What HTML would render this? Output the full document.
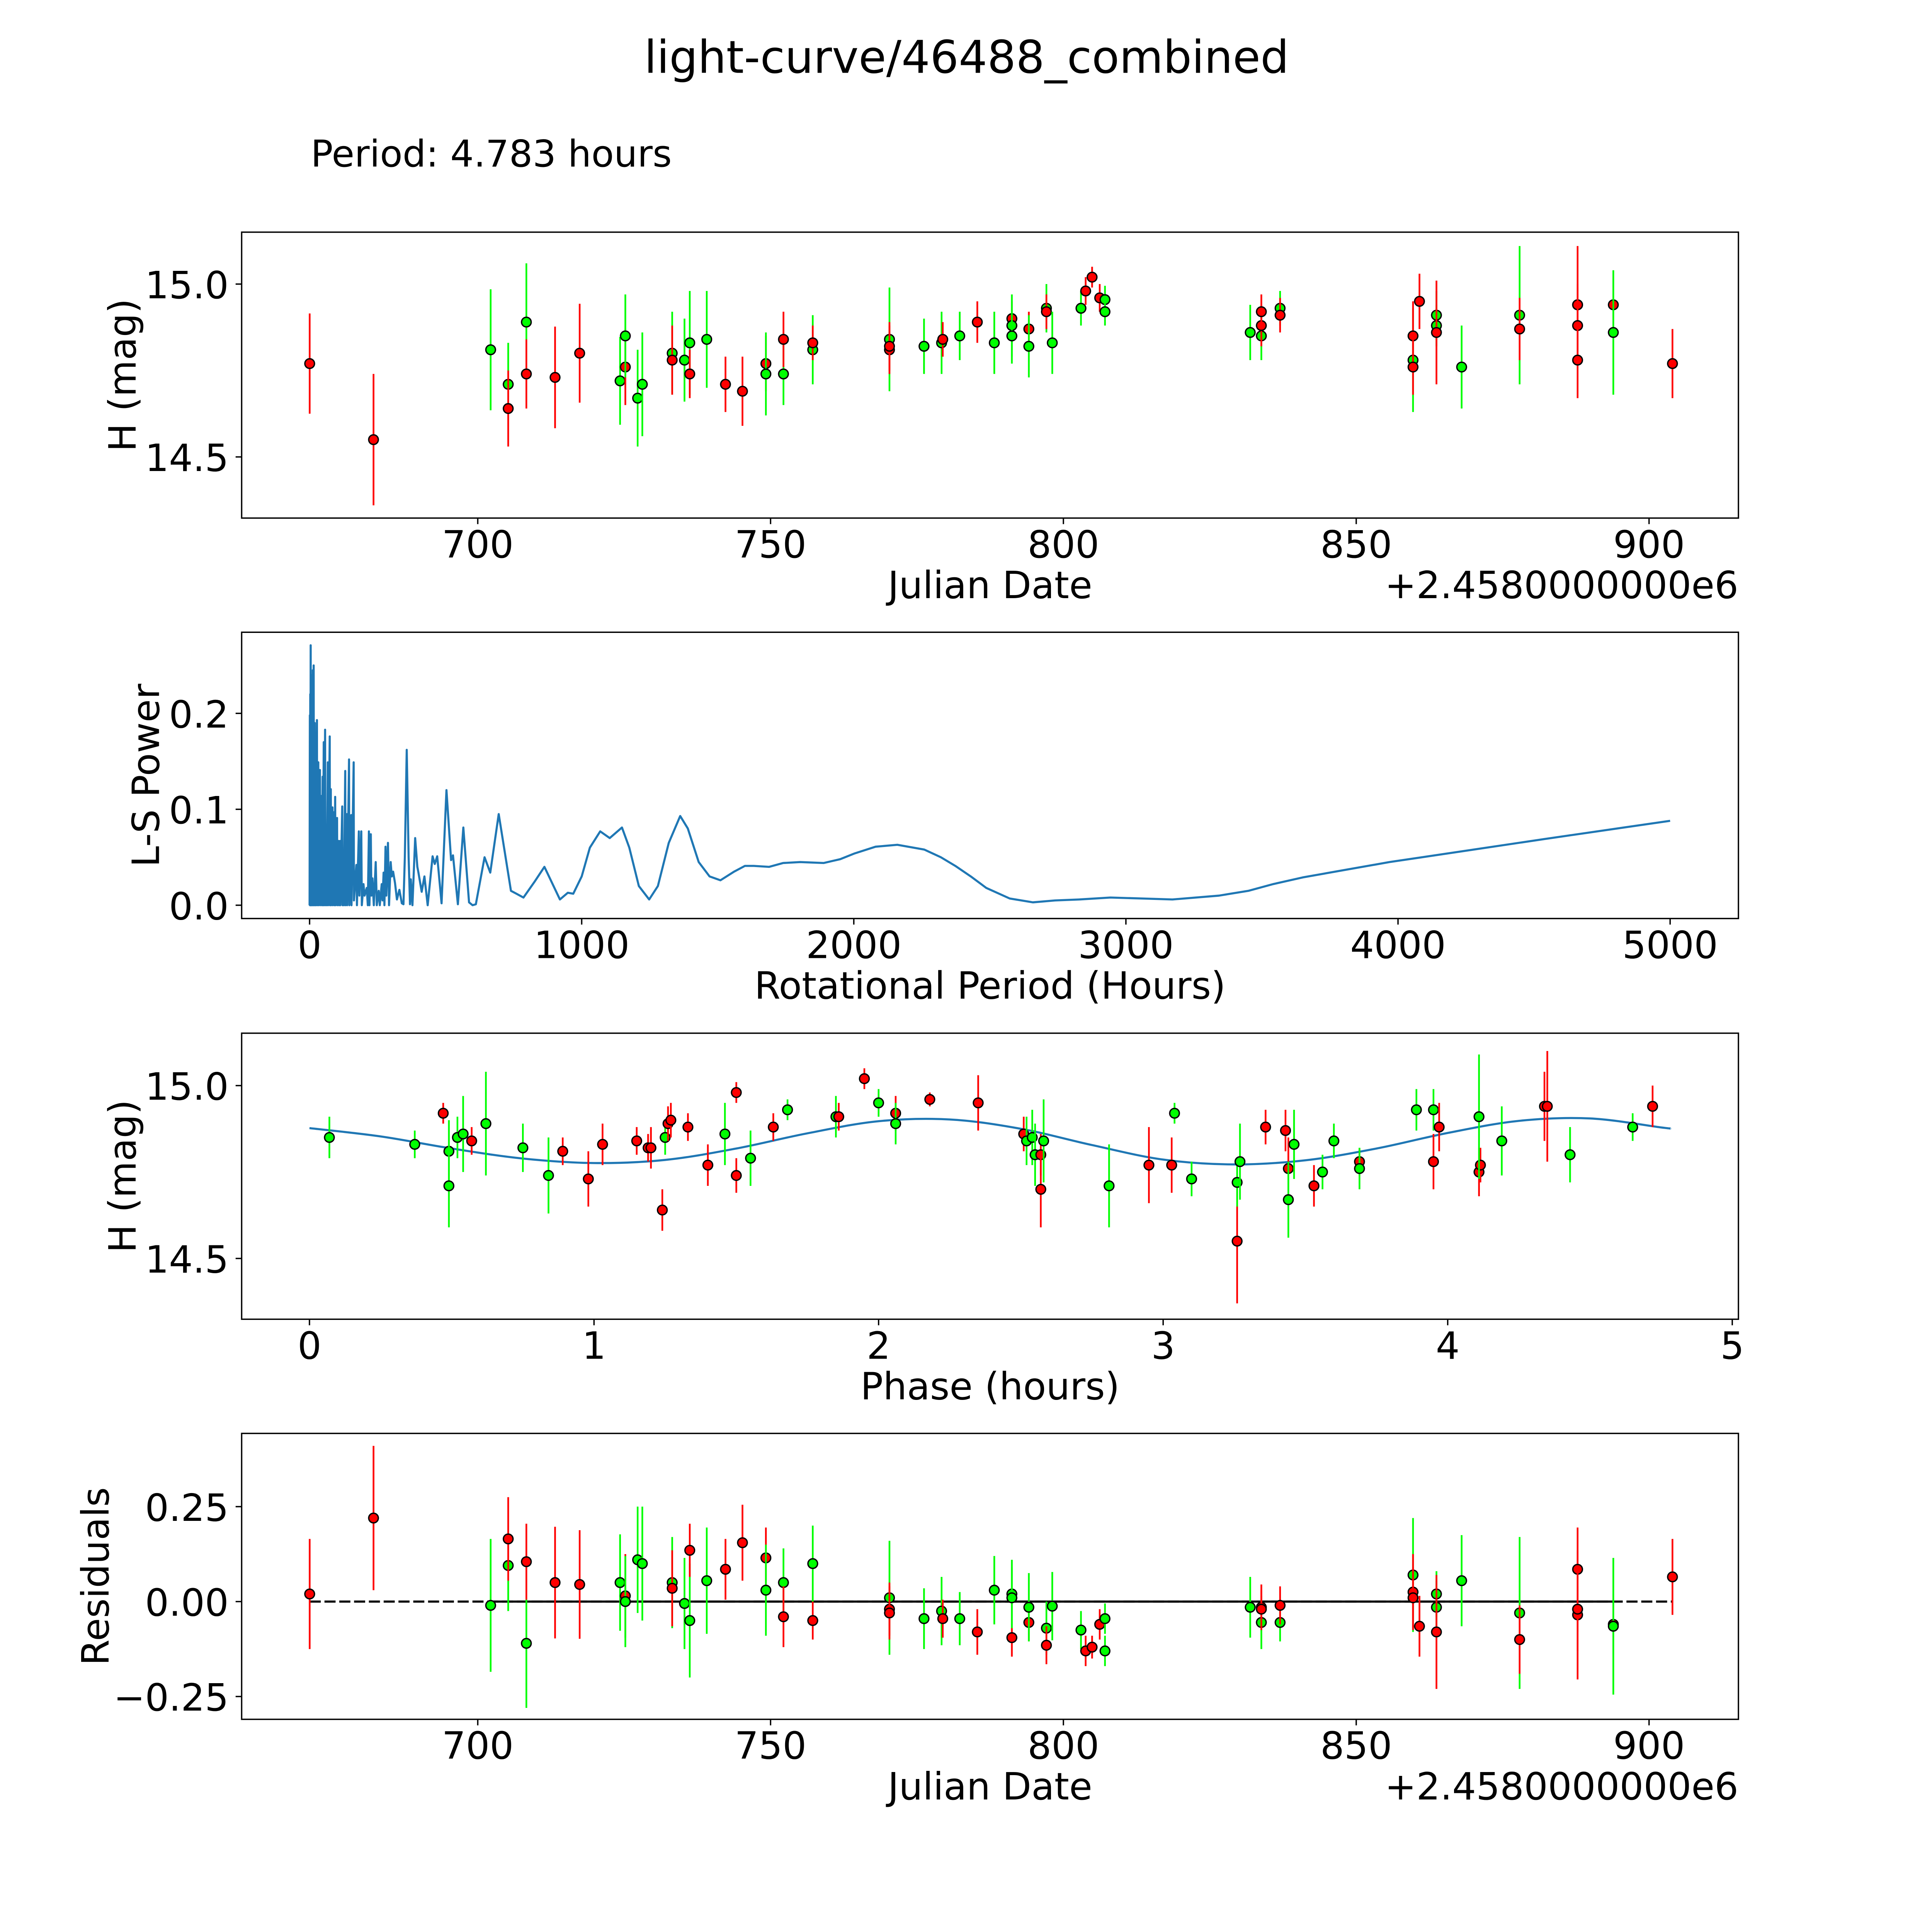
<!DOCTYPE html>
<html><head><meta charset="utf-8"><style>
html,body{margin:0;padding:0;background:#fff;overflow:hidden;width:100%;height:100%;}
svg{display:block;position:fixed;left:0;top:0;width:100vw;height:100vh;}
text{font-family:"DejaVu Sans","Liberation Sans",sans-serif;fill:#000;}
</style></head><body>
<svg id="fig" xmlns="http://www.w3.org/2000/svg" viewBox="0 0 1567 1567" preserveAspectRatio="none">
<rect x="0" y="0" width="1567" height="1567" fill="#fff"/>
<text x="784" y="59" font-size="36.5" text-anchor="middle">light-curve/46488_combined</text>
<text x="252" y="135" font-size="30" text-anchor="start">Period: 4.783 hours</text>
</svg>
<script>
// ---------- Panel 1 / 4 data (JD offset from 2458000) ----------
const jdDays = [671.3,682.2,702.2,705.2,705.2,708.3,708.3,713.2,717.4,724.3,725.2,725.2,727.3,728.1,733.2,733.2,735.3,736.2,736.2,739.1,742.3,745.2,749.2,749.2,752.2,752.2,757.2,757.2,770.3,770.3,770.3,776.2,779.2,779.4,782.3,785.3,788.2,791.2,791.2,791.2,794.1,794.1,797.1,797.1,798.1,803.0,803.8,804.9,806.2,807.1,807.1,831.9,833.8,833.8,833.8,837.0,837.0,859.7,859.7,859.7,860.8,863.7,863.7,863.7,868.0,877.9,877.9,887.8,887.8,887.8,887.8,893.9,893.9,904.0];
const jdColors = ['r','r','g','g','r','g','r','r','r','g','r','g','g','g','g','r','g','g','r','g','r','r','r','g','g','r','g','r','g','r','r','g','g','r','g','r','g','r','g','g','r','g','g','r','g','g','r','r','r','g','g','g','g','r','r','g','r','g','r','r','r','g','g','r','g','g','r','r','r','r','r','r','g','r'];
const magH = [14.77,14.55,14.81,14.71,14.64,14.89,14.74,14.73,14.80,14.72,14.76,14.85,14.67,14.71,14.80,14.78,14.78,14.83,14.74,14.84,14.71,14.69,14.77,14.74,14.74,14.84,14.81,14.83,14.84,14.81,14.82,14.82,14.83,14.84,14.85,14.89,14.83,14.90,14.88,14.85,14.87,14.82,14.93,14.92,14.83,14.93,14.98,15.02,14.96,14.955,14.92,14.86,14.85,14.88,14.92,14.93,14.91,14.78,14.85,14.76,14.95,14.91,14.88,14.86,14.76,14.91,14.87,14.94,14.94,14.88,14.78,14.94,14.86,14.77];
const magErr = [0.145,0.19,0.175,0.12,0.11,0.17,0.10,0.147,0.143,0.127,0.11,0.12,0.14,0.15,0.12,0.10,0.12,0.15,0.07,0.14,0.08,0.10,0.08,0.12,0.09,0.08,0.10,0.05,0.15,0.07,0.07,0.08,0.09,0.05,0.07,0.06,0.09,0.05,0.09,0.08,0.05,0.09,0.07,0.05,0.09,0.05,0.04,0.03,0.04,0.04,0.04,0.08,0.07,0.06,0.05,0.05,0.05,0.15,0.10,0.08,0.08,0.07,0.06,0.15,0.12,0.20,0.09,0.17,0.06,0.11,0.11,0.08,0.18,0.10];
const residuals = [0.02,0.22,-0.01,0.095,0.165,-0.11,0.105,0.05,0.045,0.05,0.015,0.0,0.11,0.10,0.05,0.035,-0.005,-0.05,0.135,0.055,0.085,0.155,0.115,0.03,0.05,-0.04,0.10,-0.05,0.01,-0.02,-0.03,-0.045,-0.025,-0.045,-0.045,-0.08,0.03,-0.095,0.02,0.01,-0.055,-0.015,-0.07,-0.115,-0.012,-0.075,-0.13,-0.12,-0.06,-0.13,-0.045,-0.015,-0.055,-0.015,-0.02,-0.055,-0.01,0.07,0.025,0.01,-0.065,-0.015,0.02,-0.08,0.055,-0.03,-0.10,-0.035,-0.02,0.085,-0.02,-0.06,-0.065,0.065];

// ---------- Panel 2 data (Lomb-Scargle) ----------
const lsPeriod = [0,1,1.5,2.5,3,4,5,6,7,9,10,12,13,15,16,19,20,22,23,27,28,32,33,38,39,44,45,48,49,52,53,57,58,62,63,67,68,74,75,78,79,84,85,90,91,94,95,101,102,107,108,112,113,120,121,125,126,131,132,137,138,145,146,153,154,162,163,172,174,181,183,190,192,198,202,210,214,218,220,225,227,231,236,243,247,254,258,265,268,272,275,279,282,288,292,298,302,307,314,321,330,339,345,350,357,364,369,372,378,388,396,400,412,422,434,452,460,469,485,503,520,527,545,565,586,599,611,643,664,695,740,760,786,828,863,920,949,969,1000,1030,1068,1103,1148,1175,1210,1248,1280,1320,1362,1390,1430,1470,1510,1560,1600,1632,1689,1740,1803,1889,1950,2003,2080,2160,2259,2320,2373,2430,2487,2573,2658,2740,2829,2943,3060,3171,3342,3450,3541,3650,3769,3969,4254,4538,5000];
const lsPower = [0,0.198,0,0.22,0,0.271,0,0.2,0,0.24,0,0.245,0,0.25,0,0.19,0,0.16,0,0.193,0,0.149,0,0.141,0,0.114,0,0.134,0,0.17,0,0.183,0,0.084,0,0.149,0,0.176,0,0.121,0,0.102,0,0.097,0,0.113,0,0.091,0,0.067,0,0.067,0,0.103,0,0.042,0,0.14,0,0.095,0,0.152,0,0.094,0,0.149,0.005,0.042,0,0.077,0.01,0.077,0,0.022,0.01,0.018,0,0.077,0,0.074,0.01,0.028,0,0.045,0,0.015,0,0.022,0.005,0.034,0,0.061,0.01,0.065,0,0.045,0.03,0.035,0.023,0.006,0.016,0.002,0.001,0.05,0.162,0.05,0.001,0.027,0,0.07,0.04,0.034,0.014,0.03,0,0.051,0.043,0.051,0.002,0.12,0.047,0.052,0.001,0.081,0.003,0,0.001,0.05,0.034,0.095,0.015,0.012,0.008,0.025,0.04,0.006,0.013,0.012,0.03,0.06,0.077,0.07,0.081,0.06,0.02,0.006,0.02,0.065,0.093,0.08,0.045,0.03,0.026,0.035,0.041,0.041,0.04,0.044,0.045,0.044,0.048,0.054,0.061,0.063,0.058,0.05,0.041,0.03,0.018,0.007,0.003,0.005,0.006,0.008,0.007,0.006,0.01,0.015,0.022,0.029,0.035,0.045,0.057,0.069,0.088];

// ---------- Panel 3 data (phase folded) ----------
const phaseHours = [0.07,0.37,0.47,0.49,0.49,0.52,0.54,0.57,0.62,0.75,0.84,0.89,0.98,1.03,1.15,1.19,1.20,1.24,1.25,1.26,1.27,1.33,1.40,1.46,1.50,1.50,1.55,1.63,1.68,1.85,1.86,1.95,2.00,2.06,2.06,2.18,2.35,2.51,2.52,2.54,2.55,2.57,2.58,2.57,2.81,2.95,3.03,3.04,3.10,3.26,3.26,3.27,3.36,3.43,3.44,3.44,3.46,3.53,3.56,3.60,3.69,3.69,3.89,3.95,3.95,3.97,4.11,4.115,4.11,4.19,4.34,4.35,4.43,4.65,4.72];
const phaseMag = [14.85,14.83,14.92,14.81,14.71,14.85,14.86,14.84,14.89,14.82,14.74,14.81,14.73,14.83,14.84,14.82,14.82,14.64,14.85,14.89,14.90,14.88,14.77,14.86,14.74,14.98,14.79,14.88,14.93,14.91,14.91,15.02,14.95,14.92,14.89,14.96,14.95,14.86,14.84,14.85,14.80,14.80,14.84,14.70,14.71,14.77,14.77,14.92,14.73,14.55,14.72,14.78,14.88,14.87,14.76,14.67,14.83,14.71,14.75,14.84,14.78,14.76,14.93,14.93,14.78,14.88,14.75,14.77,14.91,14.84,14.94,14.94,14.80,14.88,14.94];
const phaseErr = [0.06,0.04,0.03,0.09,0.12,0.06,0.11,0.04,0.15,0.07,0.11,0.04,0.08,0.06,0.04,0.04,0.06,0.06,0.05,0.05,0.05,0.04,0.06,0.09,0.05,0.03,0.08,0.04,0.03,0.06,0.04,0.03,0.04,0.05,0.06,0.02,0.08,0.05,0.07,0.08,0.09,0.06,0.12,0.11,0.12,0.11,0.08,0.03,0.05,0.18,0.07,0.11,0.05,0.06,0.09,0.11,0.10,0.06,0.05,0.05,0.04,0.06,0.06,0.06,0.08,0.07,0.07,0.05,0.18,0.10,0.10,0.16,0.08,0.04,0.06];
const phaseColors = ['g','g','r','g','g','g','g','r','g','g','g','r','r','r','r','r','r','r','g','r','r','r','r','g','r','r','g','r','g','g','r','r','g','r','g','r','r','r','g','g','g','r','g','r','g','r','r','g','g','r','g','g','r','r','r','g','g','r','g','g','r','g','g','g','r','r','r','r','g','g','r','r','g','g','r'];
const fitPhase = [0,0.25,0.5,0.75,1.0,1.25,1.5,1.75,2.0,2.25,2.5,2.75,3.0,3.25,3.5,3.75,4.0,4.25,4.5,4.75,4.783];
const fitMag = [14.877,14.853,14.818,14.789,14.776,14.785,14.818,14.862,14.897,14.902,14.875,14.828,14.786,14.772,14.784,14.818,14.863,14.898,14.905,14.879,14.876];

// tick labels
const jdTicks = [700,750,800,850,900];
const magTicks = [14.5,15.0];
const lsXTicks = [0,1000,2000,3000,4000,5000];
const lsYTicks = [0.0,0.1,0.2];
const phaseTicks = [0,1,2,3,4,5];
const residTicks = [-0.25,0.00,0.25];

const NS = 'http://www.w3.org/2000/svg';
const svg = document.getElementById('fig');
const COL = {r:'#ff0000', g:'#00ff00'};
const L = 196, R = 1410;

function el(tag, attrs, parent){
  const e = document.createElementNS(NS, tag);
  for (const k in attrs) e.setAttribute(k, attrs[k]);
  (parent||svg).appendChild(e);
  return e;
}
function lin(d0,d1,r0,r1){ return v => r0 + (v-d0)*(r1-r0)/(d1-d0); }

function axes(top, bottom, xs, ys, xt, yt, xfmt, yfmt, xlabel, ylabel, ylabX, offset, name){
  const g = el('g', {});
  
  
  xt.forEach(v => {
    const x = xs(v);
    const t = el('line', {x1:x, x2:x, y1:bottom, y2:bottom+4.9, stroke:'#000', 'stroke-width':1.1}, g);
    
    
    const lb = el('text', {x:x, y:bottom+32, 'font-size':30.5, 'text-anchor':'middle'}, g);
    lb.textContent = xfmt(v);
    
    
  });
  yt.forEach(v => {
    const y = ys(v);
    const t = el('line', {x1:L-4.9, x2:L, y1:y, y2:y, stroke:'#000', 'stroke-width':1.1}, g);
    
    
    const lb = el('text', {x:L-10.5, y:y+11.5, 'font-size':30.5, 'text-anchor':'end'}, g);
    lb.textContent = yfmt(v);
    
    
  });
  const xl = el('text', {x:(L+R)/2, y:bottom+65, 'font-size':30.5, 'text-anchor':'middle'}, g);
  xl.textContent = xlabel;
  
  
  const yc = (top+bottom)/2;
  const yl = el('text', {x:ylabX, y:yc, 'font-size':30.5, 'text-anchor':'middle', transform:'rotate(-90 '+ylabX+' '+yc+')'}, g);
  yl.textContent = ylabel;
  
  
  if (offset){
    const ot = el('text', {x:R, y:bottom+65, 'font-size':30.5, 'text-anchor':'end'}, g);
    ot.textContent = offset;
    
    
  }
}
function frame(top,bottom,name){
  const f = el('rect', {x:L, y:top, width:R-L, height:bottom-top, fill:'none', stroke:'#000', 'stroke-width':1.1});
  
  
}
function points(xsArr, ysArr, errArr, colArr, xs, ys, name){
  const g = el('g', {});
  
  
  for (let i=0;i<xsArr.length;i++){
    const x = xs(xsArr[i]);
    const eb = el('line', {x1:x, x2:x, y1:ys(ysArr[i]-errArr[i]), y2:ys(ysArr[i]+errArr[i]), stroke:COL[colArr[i]], 'stroke-width':1.4}, g);
    
    
    const c = el('circle', {cx:x, cy:ys(ysArr[i]), r:3.9, fill:COL[colArr[i]], stroke:'#000', 'stroke-width':1.1}, g);
    
    
  }
}

// ---- Panel 1 ----
const T1=188.3, B1=420.2;
const xJD = lin(700, 900, 387.5, 1337.5);
const yMag1 = lin(15.0, 14.5, 230.4, 370.6);
axes(T1,B1,xJD,yMag1,jdTicks,magTicks,v=>String(v),v=>v.toFixed(1),'Julian Date','H (mag)',110,'+2.4580000000e6','light-curve-axes');
points(jdDays, magH, magErr, jdColors, xJD, yMag1, 'light-curve-points');
frame(T1,B1,'light-curve-frame');

// ---- Panel 2 ----
const T2=512.8, B2=745;
const xLS = lin(0, 5000, 251.1, 1354.6);
const yLS = lin(0, 0.1, 734.2, 656.4);
axes(T2,B2,xLS,yLS,lsXTicks,lsYTicks,v=>String(v),v=>v.toFixed(1),'Rotational Period (Hours)','L-S Power',129,null,'periodogram-axes');
let d='';
lsPeriod.forEach((p,i)=>{ d += (i?'L':'M') + xLS(p).toFixed(2) + ',' + yLS(lsPower[i]).toFixed(2); });
const lsLine = el('path', {d:d, fill:'none', stroke:'#1f77b4', 'stroke-width':1.7, 'stroke-linejoin':'round'});


frame(T2,B2,'periodogram-frame');

// ---- Panel 3 ----
const T3=838, B3=1070;
const xPh = lin(0, 5, 251, 1405);
const yMag3 = lin(15.0, 14.5, 880.5, 1020.7);
axes(T3,B3,xPh,yMag3,phaseTicks,magTicks,v=>String(v),v=>v.toFixed(1),'Phase (hours)','H (mag)',110,null,'phase-axes');
let fd = 'M'+xPh(fitPhase[0]).toFixed(2)+','+yMag3(fitMag[0]).toFixed(2);
for (let i=0;i<fitPhase.length-1;i++){
  const p0=[xPh(fitPhase[Math.max(i-1,0)]),yMag3(fitMag[Math.max(i-1,0)])];
  const p1=[xPh(fitPhase[i]),yMag3(fitMag[i])];
  const p2=[xPh(fitPhase[i+1]),yMag3(fitMag[i+1])];
  const p3=[xPh(fitPhase[Math.min(i+2,fitPhase.length-1)]),yMag3(fitMag[Math.min(i+2,fitPhase.length-1)])];
  const c1=[p1[0]+(p2[0]-p0[0])/6, p1[1]+(p2[1]-p0[1])/6];
  const c2=[p2[0]-(p3[0]-p1[0])/6, p2[1]-(p3[1]-p1[1])/6];
  fd += 'C'+c1[0].toFixed(2)+','+c1[1].toFixed(2)+' '+c2[0].toFixed(2)+','+c2[1].toFixed(2)+' '+p2[0].toFixed(2)+','+p2[1].toFixed(2);
}
const fitLine = el('path', {d:fd, fill:'none', stroke:'#1f77b4', 'stroke-width':1.7});


points(phaseHours, phaseMag, phaseErr, phaseColors, xPh, yMag3, 'phase-points');
frame(T3,B3,'phase-frame');

// ---- Panel 4 ----
const T4=1162.6, B4=1394.5;
const yRes = lin(0, 0.25, 1299, 1222);
axes(T4,B4,xJD,yRes,jdTicks,residTicks,v=>String(v),v=>(v<0?'\u2212':'')+Math.abs(v).toFixed(2),'Julian Date','Residuals',88,'+2.4580000000e6','residual-axes');
const jmin = Math.min(...jdDays), jmax = Math.max(...jdDays);
const dash = el('line', {x1:xJD(jmin), x2:xJD(jmax), y1:yRes(0), y2:yRes(0), stroke:'#000', 'stroke-width':1.7, 'stroke-dasharray':'9,3'});


const solid = el('line', {x1:xJD(702.2), x2:xJD(893.9), y1:yRes(0), y2:yRes(0), stroke:'#000', 'stroke-width':1.7});


points(jdDays, residuals, magErr, jdColors, xJD, yRes, 'residual-points');
frame(T4,B4,'residual-frame');
</script>
</body></html>
